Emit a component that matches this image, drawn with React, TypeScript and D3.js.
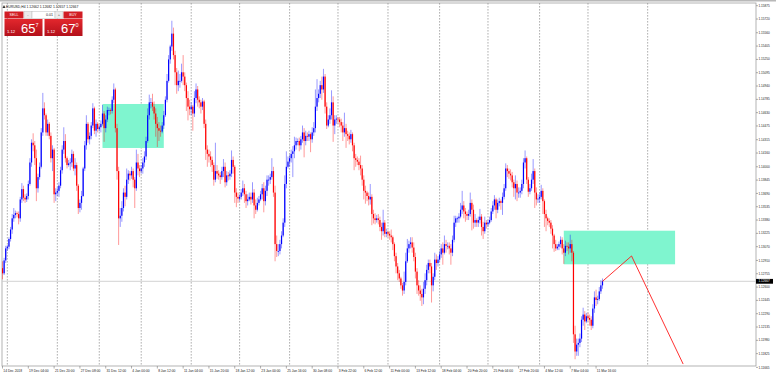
import React from 'react';
import * as d3 from 'd3';

// EURUSD H4 - prices kept in pips above 1.1000, one entry per 4h bar
const base = 1.1;
const firstOpen = 282;

const closes = [
  276, 291, 305,
  307, 316, 327, 340, 344, 346, 345, 340, 362, 374, 364, 362, 366, 380, 405, 428, 425, 410, 375, 388, 400, 440, 468, 460, 440, 450, 436, 410, 420, 368, 370,
  372, 378, 396, 420, 430, 410, 402, 404, 405, 415, 398, 402, 378, 352, 358, 366, 398, 425, 450, 432, 436, 448, 468, 442, 450, 444,
  446, 450, 462, 445, 455, 466, 466, 465, 478, 490, 445, 395, 340, 343, 352, 370, 365, 385, 392, 390, 395, 385, 375, 405, 398, 395,
  398, 405, 412, 430, 460, 475, 475, 470, 462, 450, 445, 442, 441, 448, 460, 478, 500, 525, 540, 555, 530, 510, 495, 500, 500, 510, 505, 495, 480, 470, 467,
  470, 462, 480, 490, 478, 475, 470, 476, 450, 420, 415, 412, 408, 402, 385, 395, 392, 390, 388, 395, 400, 382, 390, 389, 392, 408, 400, 370, 365, 363,
  365, 370, 375, 368, 360, 362, 365, 362, 370, 355, 350, 358, 362, 368, 375, 360, 372, 385, 385, 388, 395, 370, 310, 302, 302, 310, 320, 335, 380, 400, 406,
  410, 415, 418, 425, 430, 430, 425, 432, 440, 430, 436, 435, 438, 432, 440, 445, 470, 480, 485, 495, 490, 505, 470, 448, 455, 460, 475, 448, 455, 456,
  455, 452, 448, 440, 445, 438, 436, 432, 438, 425, 410, 408, 406, 402, 398, 385, 372, 370, 366, 362, 365, 345, 340, 338, 340, 338, 330, 325, 335, 322, 324,
  322, 320, 318, 310, 296, 284, 276, 270, 262, 256, 266, 290, 305, 310, 312, 306, 295, 278, 262, 256, 252, 248, 258, 268, 280, 288, 284, 262, 272, 292, 288, 292,
  298, 305, 300, 310, 308, 308, 305, 300, 315, 335, 340, 340, 342, 350, 355, 348, 345, 343, 345, 358, 350, 335, 338, 335, 338, 342, 330, 325, 335, 333,
  335, 338, 348, 355, 362, 350, 358, 360, 358, 365, 375, 398, 395, 392, 390, 382, 375, 380, 370, 370, 372, 380, 405, 410, 385, 371, 375, 385, 395, 370, 362, 363,
  365, 372, 360, 345, 340, 337, 335, 328, 320, 310, 305, 307, 310, 315, 305, 300, 308, 307, 305, 310, 300, 205, 185, 193, 195, 200, 222, 228, 220, 226,
  224, 222, 215, 235, 248, 245, 246, 255, 262, 267,
];

const highs = [
  290, 294, 308,
  309, 318, 330, 345, 352, 349, 348, 348, 365, 381, 378, 368, 369, 384, 410, 432, 439, 430, 420, 392, 405, 445, 486, 475, 462, 455, 452, 440, 425, 422, 375,
  376, 382, 400, 425, 446, 438, 412, 408, 410, 420, 418, 410, 405, 380, 362, 372, 400, 430, 460, 452, 440, 452, 474, 470, 455, 452,
  449, 454, 472, 465, 460, 470, 469, 468, 482, 497, 492, 450, 400, 352, 360, 375, 378, 398, 396, 395, 400, 398, 388, 420, 415, 402,
  402, 410, 418, 435, 468, 484, 480, 485, 476, 468, 458, 452, 448, 452, 465, 482, 508, 530, 542, 570, 562, 535, 515, 512, 508, 520, 530, 510, 498, 488, 478,
  475, 472, 488, 497, 494, 482, 478, 480, 478, 455, 425, 420, 418, 412, 405, 428, 402, 396, 394, 400, 409, 405, 395, 394, 396, 419, 412, 402, 375, 370,
  368, 374, 384, 380, 372, 368, 370, 370, 382, 374, 362, 364, 366, 372, 380, 382, 378, 390, 390, 392, 410, 400, 378, 320, 310, 315, 325, 340, 390, 418, 412,
  414, 420, 424, 435, 434, 433, 434, 436, 448, 445, 442, 440, 442, 440, 446, 452, 490, 502, 490, 500, 505, 514, 508, 475, 460, 468, 489, 482, 460, 460,
  458, 458, 456, 452, 463, 450, 442, 440, 443, 440, 428, 415, 412, 410, 413, 402, 390, 378, 372, 370, 380, 368, 350, 346, 344, 345, 342, 335, 350, 338, 328,
  326, 325, 327, 320, 312, 300, 288, 280, 272, 265, 278, 300, 316, 314, 318, 318, 312, 300, 282, 268, 262, 258, 266, 276, 286, 292, 292, 288, 276, 300, 298, 296,
  302, 310, 312, 320, 315, 312, 312, 310, 320, 343, 343, 342, 346, 358, 372, 360, 352, 348, 350, 370, 362, 356, 345, 340, 342, 351, 345, 336, 342, 338,
  338, 342, 352, 360, 367, 364, 362, 364, 362, 370, 380, 404, 402, 398, 397, 394, 385, 390, 384, 376, 376, 385, 410, 419, 412, 388, 380, 392, 409, 398, 376, 368,
  370, 379, 375, 362, 350, 342, 340, 338, 332, 322, 315, 310, 313, 319, 318, 310, 314, 312, 312, 321, 315, 302, 215, 200, 200, 206, 226, 236, 232, 230,
  230, 228, 226, 240, 255, 257, 250, 260, 268, 270,
];

const lows = [
  269, 274, 288,
  302, 304, 313, 322, 336, 340, 341, 333, 336, 358, 360, 358, 359, 362, 378, 400, 418, 402, 360, 370, 385, 398, 436, 455, 436, 436, 432, 405, 395, 358, 360,
  366, 365, 375, 392, 415, 405, 398, 400, 396, 400, 395, 390, 372, 345, 347, 350, 365, 395, 420, 428, 426, 432, 445, 438, 435, 440,
  441, 440, 448, 429, 440, 452, 460, 461, 462, 474, 440, 385, 309, 330, 336, 348, 354, 362, 380, 384, 386, 376, 352, 372, 390, 388,
  392, 392, 400, 408, 428, 455, 468, 465, 455, 435, 423, 430, 435, 439, 444, 458, 475, 498, 520, 535, 525, 495, 485, 488, 492, 498, 495, 488, 465, 454, 460,
  460, 442, 458, 474, 470, 468, 462, 466, 445, 408, 400, 405, 400, 394, 378, 382, 386, 385, 380, 385, 388, 376, 378, 384, 385, 388, 392, 358, 353, 358,
  360, 362, 366, 358, 352, 355, 360, 356, 358, 340, 345, 348, 355, 360, 362, 347, 355, 366, 378, 380, 385, 365, 290, 295, 296, 298, 305, 318, 330, 375, 398,
  400, 405, 388, 410, 420, 425, 418, 420, 428, 411, 425, 430, 430, 417, 428, 436, 440, 465, 475, 480, 478, 486, 462, 444, 446, 450, 455, 429, 438, 450,
  450, 446, 440, 430, 435, 422, 430, 426, 428, 418, 396, 400, 402, 396, 390, 378, 362, 357, 360, 355, 356, 332, 334, 333, 335, 333, 325, 315, 320, 318, 318,
  318, 315, 312, 303, 290, 276, 268, 266, 258, 250, 252, 262, 288, 300, 305, 300, 290, 270, 252, 250, 244, 238, 240, 252, 262, 276, 276, 242, 255, 268, 280, 284,
  290, 294, 286, 298, 300, 304, 298, 286, 296, 312, 330, 335, 335, 340, 345, 340, 336, 338, 338, 342, 326, 328, 330, 330, 330, 334, 320, 316, 322, 328,
  330, 333, 336, 345, 350, 340, 346, 354, 350, 344, 362, 372, 388, 386, 384, 376, 365, 362, 360, 364, 364, 368, 375, 398, 380, 365, 368, 372, 380, 352, 355, 358,
  358, 362, 345, 330, 325, 332, 330, 322, 305, 301, 302, 303, 303, 306, 298, 287, 296, 302, 298, 300, 290, 195, 176, 180, 180, 190, 196, 215, 210, 218,
  220, 215, 210, 212, 230, 238, 240, 244, 252, 258,
];

const priceTicks = [
  1.15875, 1.1572, 1.1556, 1.15405, 1.1525, 1.15095, 1.1494, 1.14785, 1.1463, 1.14475,
  1.14315, 1.1416, 1.14, 1.13845, 1.1369, 1.13535, 1.1338, 1.13225, 1.1307, 1.1291,
  1.12755, 1.126, 1.12445, 1.1229, 1.12135, 1.1198, 1.11825, 1.11665,
];

const timeLabels = [
  '14 Dec 2018', '19 Dec 04:00', '21 Dec 20:00', '27 Dec 08:00', '31 Dec 12:00', '4 Jan 00:00',
  '8 Jan 12:00', '11 Jan 04:00', '15 Jan 20:00', '18 Jan 12:00', '23 Jan 00:00', '25 Jan 16:00',
  '30 Jan 08:00', '3 Feb 22:00', '6 Feb 12:00', '11 Feb 00:00', '13 Feb 12:00', '18 Feb 04:00',
  '20 Feb 20:00', '25 Feb 04:00', '27 Feb 20:00', '4 Mar 12:00', '7 Mar 04:00', '11 Mar 16:00',
];
const barsPerLabel = 16;

// bar index of each week start (period separators)
const weekStarts = [3, 34, 60, 86, 117, 147, 178, 208, 239, 271, 301, 333, 363, 400];

// rectangles drawn on chart: bar range and price range
const zoneFrom = [62, 348];
const zoneTo = [100, 417];
const zoneLow = [1.14219, 1.12865];
const zoneHigh = [1.14731, 1.13256];

// projected path
const pathBars = [372, 390, 422];
const pathPrices = [1.12667, 1.12962, 1.11704];

const bid = 1.12657;
const ask = 1.1267;
const title = 'EURUSD,H4  1.12662 1.12682 1.12657 1.12667';

const W = 776;
const H = 375;
const left = 2;
const top = 3;
const right = 756;
const bottom = 366;

const font = '"Liberation Sans", Arial, sans-serif';

const App: React.FC = () => {
  const n = closes.length;
  const x = d3.scaleLinear().domain([0, n - 1]).range([2.5, 602.5]);
  const y = d3.scaleLinear().domain([1.11665, 1.15875]).range([367.4, 5.7]);
  const p = (v: number) => base + v / 10000;

  const bars = closes.map((c, i) => {
    const o = i === 0 ? firstOpen : closes[i - 1];
    const hi = Math.max(highs[i], o, c);
    const lo = Math.min(lows[i], o, c);
    return { i, o: p(o), c: p(c), h: p(hi), l: p(lo), up: c >= o };
  });

  const line = d3.line<number>()
    .x((_, i) => x(pathBars[i]))
    .y((d) => y(d));

  const lastY = y(pathPrices[0]);

  const priceBox = (bx: number, price: number) => {
    const s = price.toFixed(5);
    return (
      <g>
        <rect x={bx} y={19} width={38} height={17} fill="url(#boxGrad)" />
        <text x={bx + 2.5} y={33.3} fontSize={4.2} fill="#fff" fontFamily={font}>{s.slice(0, 4)}</text>
        <text x={bx + 16.5} y={33.3} fontSize={13} fill="#fff" fontFamily={font}>{s.slice(4, 6)}</text>
        <text x={bx + 31} y={26.5} fontSize={5.5} fill="#fff" fontFamily={font}>{s.slice(6)}</text>
      </g>
    );
  };

  return (
    <svg width={W} height={H} style={{ position: 'fixed', left: 0, top: 0, background: '#fff' }}>
      <defs>
        <clipPath id="plot">
          <rect x={left} y={top} width={right - left} height={bottom - top} />
        </clipPath>
        <linearGradient id="boxGrad" x1="0" y1="0" x2="0" y2="1">
          <stop offset="0" stopColor="#e3272d" />
          <stop offset="1" stopColor="#b3101a" />
        </linearGradient>
      </defs>

      <rect x={0} y={0} width={W} height={1.5} fill="#b8b8b8" />
      <rect x={left} y={top} width={right - left} height={bottom - top} fill="#fff" stroke="#a0a0a0" strokeWidth={0.8} />

      <g clipPath="url(#plot)">
        {weekStarts.map((b) => (
          <line key={b} x1={x(b)} x2={x(b)} y1={top} y2={bottom} stroke="#8c8c8c" strokeWidth={0.7} strokeDasharray="1.6 1.4" />
        ))}

        {zoneFrom.map((f, k) => (
          <rect key={k} x={x(f)} y={y(zoneHigh[k])} width={x(zoneTo[k]) - x(f)} height={y(zoneLow[k]) - y(zoneHigh[k])} fill="#7ff5cf" />
        ))}

        <line x1={left} x2={right} y1={lastY} y2={lastY} stroke="#c8c8c8" strokeWidth={0.8} />

        {bars.map((b) => {
          const col = b.up ? '#0000ff' : '#ff0000';
          const cx = x(b.i);
          const y0 = y(Math.max(b.o, b.c));
          const y1 = y(Math.min(b.o, b.c));
          return (
            <g key={b.i}>
              <line x1={cx} x2={cx} y1={y(b.h)} y2={y(b.l)} stroke={col} strokeOpacity={0.45} strokeWidth={0.9} />
              <rect x={cx - 0.6} y={y0} width={1.2} height={Math.max(0.8, y1 - y0)} fill={col} />
            </g>
          );
        })}

        <path d={line(pathPrices) || ''} fill="none" stroke="#ff1a1a" strokeWidth={0.9} />
      </g>

      {/* right price scale */}
      {priceTicks.map((t) => (
        <g key={t}>
          <line x1={right} x2={right + 2} y1={y(t)} y2={y(t)} stroke="#777" strokeWidth={0.6} />
          <text x={right + 2.5} y={y(t) + 1.1} fontSize={3.1} fill="#222" fontFamily={font}>{t.toFixed(5)}</text>
        </g>
      ))}
      <rect x={right} y={lastY - 2.4} width={17} height={4.8} fill="#000" />
      <text x={right + 2.5} y={lastY + 1.1} fontSize={3.1} fill="#fff" fontFamily={font}>{pathPrices[0].toFixed(5)}</text>

      {/* bottom time scale */}
      {timeLabels.map((t, k) => {
        const tx = x(k * barsPerLabel);
        return (
          <g key={t}>
            <line x1={tx} x2={tx} y1={bottom} y2={bottom + 2.5} stroke="#777" strokeWidth={0.6} />
            <text x={tx + 0.8} y={371.8} fontSize={3.3} fill="#222" fontFamily={font}>{t}</text>
          </g>
        );
      })}

      {/* title */}
      <path d="M2.5,8 L4,5 L5.5,8 Z" fill="#333" />
      <text x={6} y={7.8} fontSize={3.4} fill="#111" fontFamily={font}>{title}</text>

      {/* one click trading panel */}
      <rect x={4.5} y={11.5} width={19} height={7} fill="#d11d24" />
      <text x={14} y={16.3} fontSize={3.6} fill="#fff" textAnchor="middle" fontFamily={font}>SELL</text>
      <rect x={24} y={11.5} width={8} height={7} fill="#ececec" stroke="#bdbdbd" strokeWidth={0.5} />
      <text x={28} y={16.3} fontSize={4} fill="#555" textAnchor="middle" fontFamily={font}>-</text>
      <rect x={32} y={11.5} width={23} height={7} fill="#fff" stroke="#bdbdbd" strokeWidth={0.5} />
      <text x={53} y={16.3} fontSize={3.6} fill="#222" textAnchor="end" fontFamily={font}>0.01</text>
      <rect x={55} y={11.5} width={8} height={7} fill="#ececec" stroke="#bdbdbd" strokeWidth={0.5} />
      <text x={59} y={16.3} fontSize={4} fill="#555" textAnchor="middle" fontFamily={font}>+</text>
      <rect x={63.5} y={11.5} width={19} height={7} fill="#d11d24" />
      <text x={73} y={16.3} fontSize={3.6} fill="#fff" textAnchor="middle" fontFamily={font}>BUY</text>
      {priceBox(4.5, bid)}
      {priceBox(44.5, ask)}
    </svg>
  );
};

export default App;
